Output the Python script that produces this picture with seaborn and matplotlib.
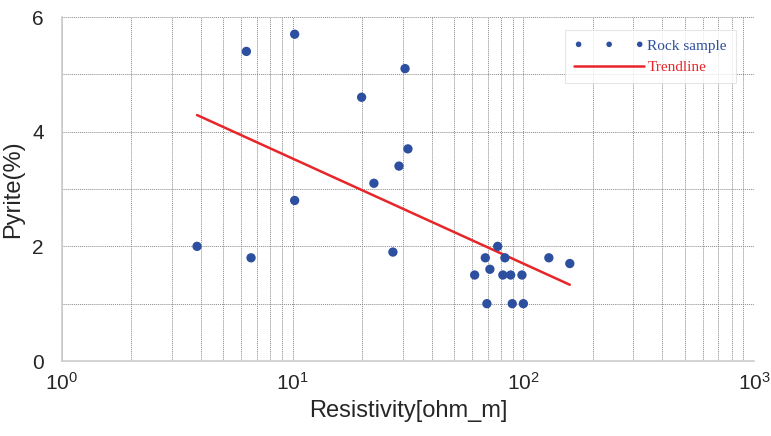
import matplotlib
matplotlib.use("Agg")
import matplotlib.pyplot as plt
import seaborn as sns
import pandas as pd
from matplotlib.ticker import LogLocator, FixedLocator, NullFormatter

# Datos
resistividad = [3.85, 6.3, 6.6, 10.2, 10.2, 19.9, 22.5, 27.2, 28.9, 30.7, 31.6,
                61.5, 68.4, 71.6, 69.5, 77.4, 83.2, 81.5, 88.1, 89.5, 98.6, 100, 129, 159]
pirita = [2.0, 5.4, 1.8, 5.7, 2.8, 4.6, 3.1, 1.9, 3.4, 5.1, 3.7,
          1.5, 1.8, 1.6, 1.0, 2.0, 1.8, 1.5, 1.5, 1.0, 1.5, 1.0, 1.8, 1.7]
tendencia_x = [3.85, 159]
tendencia_y = [4.29, 1.33]

df = pd.DataFrame({"res": resistividad, "py": pirita})
df_t = pd.DataFrame({"res": tendencia_x, "py": tendencia_y})

sns.set_style("white")
plt.rcParams["font.family"] = ["Liberation Sans", "DejaVu Sans"]

fig = plt.figure(figsize=(7.71, 4.36), dpi=100)
ax = fig.add_axes([0.0804, 0.172, 0.8976, 0.789])
ax.set_xscale("log")

sns.scatterplot(data=df, x="res", y="py", ax=ax, color="#2d4fa0", s=45,
                edgecolor="none", label="Rock sample", zorder=3)
sns.lineplot(data=df_t, x="res", y="py", ax=ax, color="#e8262a", linewidth=1.8,
             label="Trendline", zorder=2)

ax.set_xlim(1, 1000)
ax.set_ylim(0, 6)
ax.set_yticks([0, 2, 4, 6])
ax.yaxis.set_minor_locator(FixedLocator([1, 3, 5]))
ax.xaxis.set_major_locator(LogLocator(base=10))
ax.xaxis.set_minor_locator(LogLocator(base=10, subs=range(2, 10)))
ax.xaxis.set_minor_formatter(NullFormatter())

ax.grid(True, which="both", linestyle=(0, (1, 1)), color="#8a8a8a", linewidth=0.7)
ax.tick_params(axis="x", which="both", direction="in", length=4, color="#333333",
               labelsize=15, pad=8)
ax.tick_params(axis="y", which="both", length=0, labelsize=15, pad=13)

for s in ["top", "right"]:
    ax.spines[s].set_visible(False)
for s in ["left", "bottom"]:
    ax.spines[s].set_color("#cccccc")
    ax.spines[s].set_linewidth(1.2)

ax.set_xlabel("Resistivity[ohm_m]", fontsize=17)
ax.set_ylabel("Pyrite(%)", fontsize=17, labelpad=6)

leg = ax.legend(loc="upper right", scatterpoints=3, scatteryoffsets=[0.5],
                markerscale=0.6, frameon=True, fancybox=False,
                prop={"family": "Liberation Serif", "size": 11},
                handlelength=4.6, handletextpad=0.2, borderpad=0.6, labelspacing=0.5,
                bbox_to_anchor=(0.985, 0.985))
leg.get_frame().set_edgecolor("#e0e0e0")
leg.get_frame().set_linewidth(0.8)
for txt, col in zip(leg.get_texts(), ["#2d4fa0", "#e8262a"]):
    txt.set_color(col)

fig.savefig("out.png", dpi=100)
